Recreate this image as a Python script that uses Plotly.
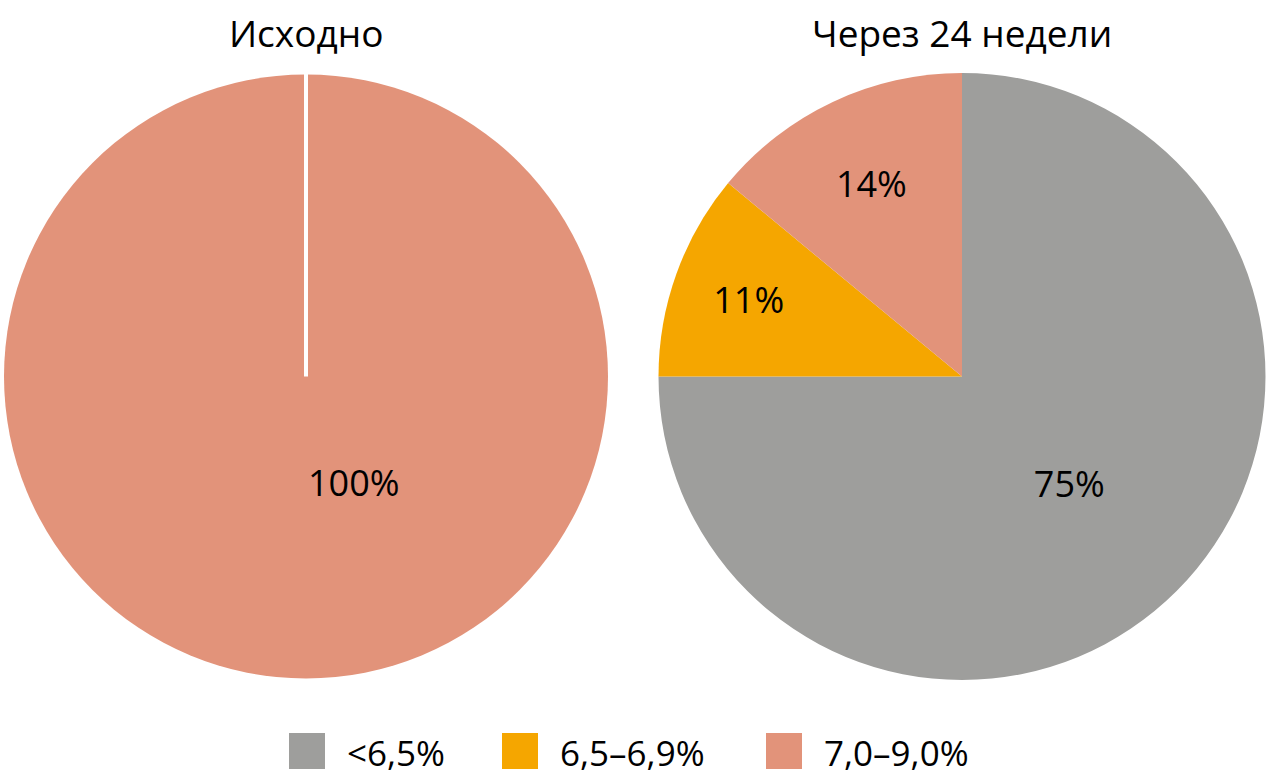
import plotly.graph_objects as go

# data
categories = ["<6,5%", "6,5–6,9%", "7,0–9,0%"]
colors = ["#9E9E9C", "#F5A600", "#E2937A"]
baseline = [0, 0, 100]      # Исходно
week24 = [75, 11, 14]       # Через 24 недели
titles = ["Исходно", "Через 24 недели"]

W, H = 1266, 781
FONT = "Open Sans"

# pie domains in pixels (left, right, top, bottom)
boxes = [(4, 608, 73, 680), (658, 1266, 73, 680)]


def dom(b):
    l, r, t, bt = b
    return dict(x=[l / W, r / W], y=[1 - bt / H, 1 - t / H])


fig = go.Figure()
annotations = []
for k, (vals, box) in enumerate(zip([baseline, week24], boxes)):
    keep = [i for i, v in enumerate(vals) if v > 0]
    single = len(keep) == 1
    fig.add_trace(go.Pie(
        labels=[categories[i] for i in keep],
        values=[vals[i] for i in keep],
        marker=dict(colors=[colors[i] for i in keep], line=dict(width=0)),
        sort=False, direction="clockwise", rotation=0,
        textinfo="none" if single else "percent", textposition="inside",
        insidetextorientation="horizontal",
        textfont=dict(family=FONT, size=36, color="black"),
        domain=dom(box), showlegend=False, hoverinfo="label+percent",
    ))
    if single:
        # a lone full slice: plotly would put the label dead centre, the original sits lower
        annotations.append(dict(text=f"{vals[keep[0]]}%", x=(box[0] + box[1]) / 2 / W,
                                y=1 - ((box[2] + box[3]) / 2 + 106) / H,
                                xref="paper", yref="paper", showarrow=False,
                                font=dict(family=FONT, size=36, color="black")))

for t, box in zip(titles, boxes):
    cx = (box[0] + box[1]) / 2 / W
    annotations.append(dict(text=t, x=cx, y=1 - 32 / H, xref="paper", yref="paper",
                            showarrow=False, xanchor="center", yanchor="middle",
                            font=dict(family=FONT, size=37, color="black")))

# white divider on the left pie (from top to centre)
l, r, t, bt = boxes[0]
shapes = [dict(type="line", xref="paper", yref="paper",
               x0=(l + r) / 2 / W, x1=(l + r) / 2 / W,
               y0=1 - (t + bt) / 2 / H, y1=1 - t / H,
               line=dict(color="white", width=4))]

# legend drawn by hand so the squares are large
leg_x = [289, 502, 766]
for name, col, x in zip(categories, colors, leg_x):
    shapes.append(dict(type="rect", xref="paper", yref="paper",
                       x0=x / W, x1=(x + 36) / W, y0=1 - 769 / H, y1=1 - 733 / H,
                       fillcolor=col, line=dict(width=0)))
    annotations.append(dict(text=name, x=(x + 56) / W, y=1 - 752 / H,
                            xref="paper", yref="paper", showarrow=False,
                            xanchor="left", yanchor="middle",
                            font=dict(family=FONT, size=35, color="black")))

fig.update_layout(
    width=W, height=H,
    margin=dict(l=0, r=0, t=0, b=0),
    paper_bgcolor="white", plot_bgcolor="white",
    annotations=annotations, shapes=shapes,
)

fig.write_html("out.html", config={"displayModeBar": False},
               post_script="document.body.style.margin='0px';")
